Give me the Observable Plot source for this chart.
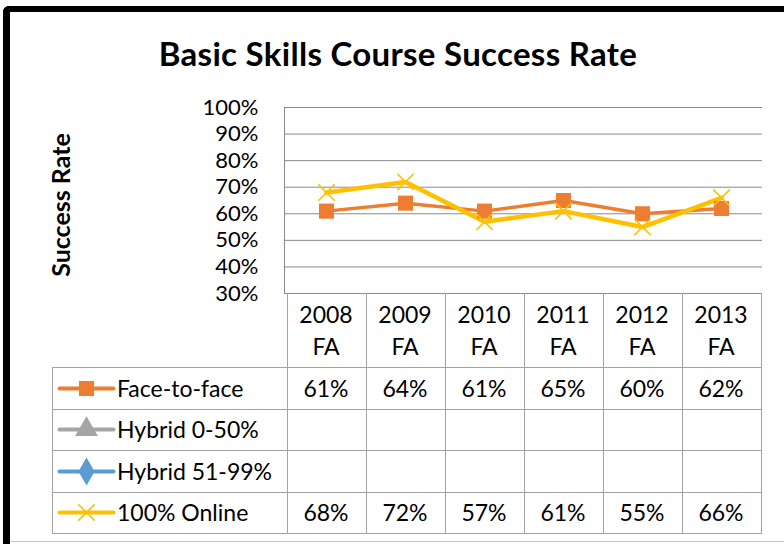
<!DOCTYPE html>
<html><head><meta charset="utf-8">
<script src="https://cdn.jsdelivr.net/npm/d3@7"></script>
<script src="https://cdn.jsdelivr.net/npm/@observablehq/plot@0.6"></script>
<style>
html,body{margin:0;padding:0;background:#fff;overflow:hidden;}
#wrap{position:relative;width:784px;height:544px;overflow:hidden;font-family:Lato,"Open Sans",sans-serif;color:#000;}
#frame{position:absolute;left:3px;top:6px;width:800px;height:600px;border-left:7px solid #000;border-top:6px solid #000;border-top-left-radius:6px;box-sizing:border-box;}
#bottomline{position:absolute;left:10px;top:541px;width:774px;height:1px;background:#c4c4c4;}
#title{position:absolute;left:0;top:33px;width:796px;text-align:center;font-weight:bold;font-size:33px;letter-spacing:0.3px;line-height:40px;white-space:nowrap;}
#ylabel{position:absolute;left:60px;top:205px;transform:translate(-50%,-50%) rotate(-90deg);font-weight:bold;font-size:25px;white-space:nowrap;}
#chart{position:absolute;left:0;top:0;}
.cell{position:absolute;display:flex;align-items:center;justify-content:center;font-size:23px;line-height:32px;text-align:center;white-space:nowrap;}
.lab{justify-content:flex-start;}
.hl{position:absolute;height:1px;background:#a3a3a3;}
.vl{position:absolute;width:1px;background:#a3a3a3;}
</style>
</head><body>
<div id="wrap">
  <div id="frame"></div>
  <div id="bottomline"></div>
  <div id="title">Basic Skills Course Success Rate</div>
  <div id="ylabel">Success Rate</div>
  <div id="chart"></div>
  <div id="table"></div>
</div>
<script>
const categories = ["2008 FA", "2009 FA", "2010 FA", "2011 FA", "2012 FA", "2013 FA"];
const seriesNames = ["Face-to-face", "Hybrid 0-50%", "Hybrid 51-99%", "100% Online"];
const faceToFace = [0.61, 0.64, 0.61, 0.65, 0.60, 0.62];
const hybrid0to50 = [null, null, null, null, null, null];
const hybrid51to99 = [null, null, null, null, null, null];
const online100 = [0.68, 0.72, 0.57, 0.61, 0.55, 0.66];
const yTicks = [0.3, 0.4, 0.5, 0.6, 0.7, 0.8, 0.9, 1.0];

const seriesValues = [faceToFace, hybrid0to50, hybrid51to99, online100];
const seriesColors = ["#ED7D31", "#A5A5A5", "#5B9BD5", "#FFC000"];
const seriesSymbols = ["square", "triangle", "diamond", "times"];
const seriesWidths = [3.5, 3.5, 3.5, 4.5];

const pct = d => Math.round(d * 100) + "%";

const rows = seriesNames.map((name, i) =>
  categories.map((cat, j) => ({series: name, cat, value: seriesValues[i][j]})).filter(d => d.value != null)
);

function markerMark(data, i, opts = {}) {
  const sym = seriesSymbols[i];
  const isStroke = sym === "times";
  return Plot.dot(data, {
    ...opts,
    symbol: sym,
    r: isStroke ? 7.5 : 8.5,
    fill: isStroke ? "none" : seriesColors[i],
    stroke: seriesColors[i],
    strokeWidth: isStroke ? 1.6 : 0
  });
}

const lineMarks = rows.map((data, i) => Plot.line(data, {x: "cat", y: "value", stroke: seriesColors[i], strokeWidth: seriesWidths[i], strokeLinejoin: "round"}));
const dotMarks = rows.map((data, i) => markerMark(data, i, {x: "cat", y: "value"}));

const chart = Plot.plot({
  width: 784, height: 300,
  marginLeft: 284, marginRight: 22, marginTop: 107, marginBottom: 7,
  style: {fontFamily: "Lato, 'Open Sans', sans-serif", fontSize: "22px", color: "#000", background: "transparent", overflow: "visible"},
  x: {type: "point", domain: categories, padding: 0.5, axis: null},
  y: {domain: [0.3, 1], axis: null},
  marks: [
    Plot.ruleY(yTicks, {stroke: "#8a8a8a", strokeWidth: 1}),
    Plot.frame({anchor: "left", stroke: "#8a8a8a"}),
    Plot.axisY(yTicks, {tickSize: 0, tickPadding: 26, tickFormat: pct, fontSize: 22, label: null, fill: "#000"}),
    ...lineMarks,
    ...dotMarks
  ]
});
document.getElementById("chart").append(chart);

// Data table aligned with the chart's x scale
const xs = chart.scale("x");
const step = xs.step;
const colLeft = categories.map(c => xs.apply(c) - step / 2);
const tableLeft = 52;
const plotLeft = colLeft[0];
const plotRight = colLeft[colLeft.length - 1] + step;
const ys = chart.scale("y");
const headerTop = ys.apply(0.3);
const headerBottom = 367;
const tableBottom = 533;
const rowH = (tableBottom - headerBottom) / seriesNames.length;

const table = d3.select("#table");
// header cells
categories.forEach((c, j) => {
  const [a, b] = c.split(" ");
  table.append("div").attr("class", "cell")
    .style("left", colLeft[j] + "px").style("top", headerTop + "px")
    .style("width", step + "px").style("height", (headerBottom - headerTop) + "px")
    .html(`${a}<br>${b}`);
});
// rows
seriesNames.forEach((name, i) => {
  const top = headerBottom + i * rowH;
  const lab = table.append("div").attr("class", "cell lab")
    .style("left", (tableLeft + 7) + "px").style("top", top + "px")
    .style("width", (plotLeft - tableLeft - 7) + "px").style("height", rowH + "px");
  const sw = Plot.plot({
    width: 54, height: 22, margin: 0,
    x: {domain: [0, 1], axis: null}, y: {domain: [0, 1], axis: null},
    style: {background: "transparent", overflow: "visible"},
    marks: [
      Plot.line([[0, 0.5], [1, 0.5]], {stroke: seriesColors[i], strokeWidth: 4}),
      markerMark([[0.5, 0.5]], i, {x: d => d[0], y: d => d[1]})
    ]
  });
  sw.style.marginRight = "4px";
  sw.style.flex = "none";
  lab.node().append(sw);
  lab.append("span").text(name);
  categories.forEach((c, j) => {
    const v = seriesValues[i][j];
    table.append("div").attr("class", "cell")
      .style("left", colLeft[j] + "px").style("top", top + "px")
      .style("width", step + "px").style("height", rowH + "px")
      .text(v == null ? "" : pct(v));
  });
});
// grid lines of the table
const hLines = d3.range(seriesNames.length + 1).map(i => headerBottom + i * rowH);
hLines.forEach(y => table.append("div").attr("class", "hl")
  .style("left", tableLeft + "px").style("top", Math.round(y) + "px").style("width", (plotRight - tableLeft + 1) + "px"));
table.append("div").attr("class", "vl").style("left", tableLeft + "px").style("top", headerBottom + "px").style("height", (tableBottom - headerBottom) + "px");
[...colLeft, plotRight].forEach(x => table.append("div").attr("class", "vl")
  .style("left", Math.round(x) + "px").style("top", headerTop + "px").style("height", (tableBottom - headerTop + 1) + "px"));
</script>
</body></html>
